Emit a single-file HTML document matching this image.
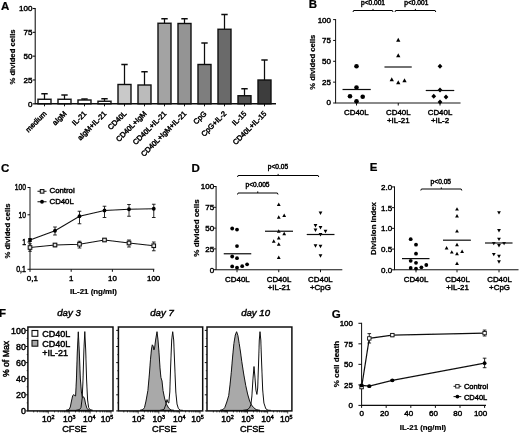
<!DOCTYPE html>
<html><head><meta charset="utf-8"><title>Figure</title>
<style>
html,body{margin:0;padding:0;background:#fff;}
body{width:520px;height:433px;overflow:hidden;font-family:"Liberation Sans",sans-serif;}
svg{display:block;}
svg text{font-family:"Liberation Sans",sans-serif;fill:#000;stroke:#000;stroke-width:0.45px;}
svg text.b{stroke-width:0.22px;}
</style></head><body>
<svg width="520" height="433" viewBox="0 0 520 433">
<rect width="520" height="433" fill="#fff"/>
<defs><filter id="soft" x="0" y="0" width="520" height="433" filterUnits="userSpaceOnUse"><feGaussianBlur stdDeviation="0.38"/></filter></defs>
<g filter="url(#soft)">
<text x="1" y="9.6" font-size="11.5" text-anchor="start" font-weight="bold" font-style="normal" class="b">A</text>
<line x1="35.2" y1="8.0" x2="35.2" y2="103.8" stroke="#111" stroke-width="1.1"/>
<line x1="32.7" y1="8.5" x2="35.2" y2="8.5" stroke="#111" stroke-width="1.1"/>
<text x="32.400000000000006" y="11.4" font-size="8" text-anchor="end" font-weight="normal" font-style="normal">100</text>
<line x1="32.7" y1="32.325" x2="35.2" y2="32.325" stroke="#111" stroke-width="1.1"/>
<text x="32.400000000000006" y="35.225" font-size="8" text-anchor="end" font-weight="normal" font-style="normal">75</text>
<line x1="32.7" y1="56.15" x2="35.2" y2="56.15" stroke="#111" stroke-width="1.1"/>
<text x="32.400000000000006" y="59.05" font-size="8" text-anchor="end" font-weight="normal" font-style="normal">50</text>
<line x1="32.7" y1="79.975" x2="35.2" y2="79.975" stroke="#111" stroke-width="1.1"/>
<text x="32.400000000000006" y="82.875" font-size="8" text-anchor="end" font-weight="normal" font-style="normal">25</text>
<line x1="32.7" y1="103.8" x2="35.2" y2="103.8" stroke="#111" stroke-width="1.1"/>
<text x="32.400000000000006" y="106.7" font-size="8" text-anchor="end" font-weight="normal" font-style="normal">0</text>
<text x="14.6" y="57" font-size="7.7" text-anchor="middle" font-weight="bold" font-style="normal" class="b" transform="rotate(-90 14.6 57)">% divided cells</text>
<line x1="44.5" y1="99.25" x2="44.5" y2="93.75" stroke="#111" stroke-width="1.25"/>
<line x1="41.3" y1="93.75" x2="47.7" y2="93.75" stroke="#111" stroke-width="1.5"/>
<rect x="38.0" y="99.25" width="13" height="4.549999999999997" fill="#fff" stroke="#111" stroke-width="1.4"/>
<line x1="64.5" y1="99.25" x2="64.5" y2="95" stroke="#111" stroke-width="1.25"/>
<line x1="61.3" y1="95" x2="67.7" y2="95" stroke="#111" stroke-width="1.5"/>
<rect x="58.0" y="99.25" width="13" height="4.549999999999997" fill="#fff" stroke="#111" stroke-width="1.4"/>
<line x1="84.5" y1="100" x2="84.5" y2="99.0" stroke="#111" stroke-width="1.25"/>
<line x1="81.3" y1="99.0" x2="87.7" y2="99.0" stroke="#111" stroke-width="1.5"/>
<rect x="78.0" y="100" width="13" height="3.799999999999997" fill="#fff" stroke="#111" stroke-width="1.4"/>
<line x1="104.5" y1="101.25" x2="104.5" y2="98.75" stroke="#111" stroke-width="1.25"/>
<line x1="101.3" y1="98.75" x2="107.7" y2="98.75" stroke="#111" stroke-width="1.5"/>
<rect x="98.0" y="101.25" width="13" height="2.549999999999997" fill="#fff" stroke="#111" stroke-width="1.4"/>
<line x1="124.5" y1="84.5" x2="124.5" y2="64.5" stroke="#111" stroke-width="1.25"/>
<line x1="121.3" y1="64.5" x2="127.7" y2="64.5" stroke="#111" stroke-width="1.5"/>
<rect x="118.0" y="84.5" width="13" height="19.299999999999997" fill="#c9c9c9" stroke="#111" stroke-width="1.4"/>
<line x1="144.5" y1="85" x2="144.5" y2="71.75" stroke="#111" stroke-width="1.25"/>
<line x1="141.3" y1="71.75" x2="147.7" y2="71.75" stroke="#111" stroke-width="1.5"/>
<rect x="138.0" y="85" width="13" height="18.799999999999997" fill="#bbbbbb" stroke="#111" stroke-width="1.4"/>
<line x1="164.5" y1="23.25" x2="164.5" y2="18.75" stroke="#111" stroke-width="1.25"/>
<line x1="161.3" y1="18.75" x2="167.7" y2="18.75" stroke="#111" stroke-width="1.5"/>
<rect x="158.0" y="23.25" width="13" height="80.55" fill="#a3a3a3" stroke="#111" stroke-width="1.4"/>
<line x1="184.5" y1="23.5" x2="184.5" y2="18.75" stroke="#111" stroke-width="1.25"/>
<line x1="181.3" y1="18.75" x2="187.7" y2="18.75" stroke="#111" stroke-width="1.5"/>
<rect x="178.0" y="23.5" width="13" height="80.3" fill="#949494" stroke="#111" stroke-width="1.4"/>
<line x1="204.5" y1="64.5" x2="204.5" y2="43" stroke="#111" stroke-width="1.25"/>
<line x1="201.3" y1="43" x2="207.7" y2="43" stroke="#111" stroke-width="1.5"/>
<rect x="198.0" y="64.5" width="13" height="39.3" fill="#7e7e7e" stroke="#111" stroke-width="1.4"/>
<line x1="224.5" y1="29.25" x2="224.5" y2="14.5" stroke="#111" stroke-width="1.25"/>
<line x1="221.3" y1="14.5" x2="227.7" y2="14.5" stroke="#111" stroke-width="1.5"/>
<rect x="218.0" y="29.25" width="13" height="74.55" fill="#6b6b6b" stroke="#111" stroke-width="1.4"/>
<line x1="244.5" y1="95.75" x2="244.5" y2="88.75" stroke="#111" stroke-width="1.25"/>
<line x1="241.3" y1="88.75" x2="247.7" y2="88.75" stroke="#111" stroke-width="1.5"/>
<rect x="238.0" y="95.75" width="13" height="8.049999999999997" fill="#535353" stroke="#111" stroke-width="1.4"/>
<line x1="264.5" y1="80" x2="264.5" y2="60" stroke="#111" stroke-width="1.25"/>
<line x1="261.3" y1="60" x2="267.7" y2="60" stroke="#111" stroke-width="1.5"/>
<rect x="258.0" y="80" width="13" height="23.799999999999997" fill="#3c3c3c" stroke="#111" stroke-width="1.4"/>
<line x1="34.7" y1="103.8" x2="276" y2="103.8" stroke="#111" stroke-width="1.4"/>
<line x1="44.5" y1="103.8" x2="44.5" y2="106.3" stroke="#111" stroke-width="1.0"/>
<text x="47.0" y="114.1" font-size="7.4" text-anchor="end" font-weight="normal" font-style="normal" transform="rotate(-45 47.0 114.1)">medium</text>
<line x1="64.5" y1="103.8" x2="64.5" y2="106.3" stroke="#111" stroke-width="1.0"/>
<text x="67.0" y="114.1" font-size="7.4" text-anchor="end" font-weight="normal" font-style="normal" transform="rotate(-45 67.0 114.1)">aIgM</text>
<line x1="84.5" y1="103.8" x2="84.5" y2="106.3" stroke="#111" stroke-width="1.0"/>
<text x="87.0" y="114.1" font-size="7.4" text-anchor="end" font-weight="normal" font-style="normal" transform="rotate(-45 87.0 114.1)">IL-21</text>
<line x1="104.5" y1="103.8" x2="104.5" y2="106.3" stroke="#111" stroke-width="1.0"/>
<text x="107.0" y="114.1" font-size="7.4" text-anchor="end" font-weight="normal" font-style="normal" transform="rotate(-45 107.0 114.1)">aIgM+IL-21</text>
<line x1="124.5" y1="103.8" x2="124.5" y2="106.3" stroke="#111" stroke-width="1.0"/>
<text x="127.0" y="114.1" font-size="7.4" text-anchor="end" font-weight="normal" font-style="normal" transform="rotate(-45 127.0 114.1)">CD40L</text>
<line x1="144.5" y1="103.8" x2="144.5" y2="106.3" stroke="#111" stroke-width="1.0"/>
<text x="147.0" y="114.1" font-size="7.4" text-anchor="end" font-weight="normal" font-style="normal" transform="rotate(-45 147.0 114.1)">CD40L+IgM</text>
<line x1="164.5" y1="103.8" x2="164.5" y2="106.3" stroke="#111" stroke-width="1.0"/>
<text x="167.0" y="114.1" font-size="7.4" text-anchor="end" font-weight="normal" font-style="normal" transform="rotate(-45 167.0 114.1)">CD40L+IL-21</text>
<line x1="184.5" y1="103.8" x2="184.5" y2="106.3" stroke="#111" stroke-width="1.0"/>
<text x="187.0" y="114.1" font-size="7.4" text-anchor="end" font-weight="normal" font-style="normal" transform="rotate(-45 187.0 114.1)">CD40L+IgM+IL-21</text>
<line x1="204.5" y1="103.8" x2="204.5" y2="106.3" stroke="#111" stroke-width="1.0"/>
<text x="207.0" y="114.1" font-size="7.4" text-anchor="end" font-weight="normal" font-style="normal" transform="rotate(-45 207.0 114.1)">CpG</text>
<line x1="224.5" y1="103.8" x2="224.5" y2="106.3" stroke="#111" stroke-width="1.0"/>
<text x="227.0" y="114.1" font-size="7.4" text-anchor="end" font-weight="normal" font-style="normal" transform="rotate(-45 227.0 114.1)">CpG+IL-2</text>
<line x1="244.5" y1="103.8" x2="244.5" y2="106.3" stroke="#111" stroke-width="1.0"/>
<text x="247.0" y="114.1" font-size="7.4" text-anchor="end" font-weight="normal" font-style="normal" transform="rotate(-45 247.0 114.1)">IL-15</text>
<line x1="264.5" y1="103.8" x2="264.5" y2="106.3" stroke="#111" stroke-width="1.0"/>
<text x="267.0" y="114.1" font-size="7.4" text-anchor="end" font-weight="normal" font-style="normal" transform="rotate(-45 267.0 114.1)">CD40L+IL-15</text>
<text x="308.8" y="8.2" font-size="11.5" text-anchor="start" font-weight="bold" font-style="normal" class="b">B</text>
<line x1="335.6" y1="19.1" x2="335.6" y2="103" stroke="#111" stroke-width="1.0"/>
<line x1="333.1" y1="19.599999999999994" x2="335.6" y2="19.599999999999994" stroke="#111" stroke-width="1.0"/>
<text x="331.0" y="22.499999999999993" font-size="8" text-anchor="end" font-weight="normal" font-style="normal">100</text>
<line x1="333.1" y1="40.449999999999996" x2="335.6" y2="40.449999999999996" stroke="#111" stroke-width="1.0"/>
<text x="331.0" y="43.349999999999994" font-size="8" text-anchor="end" font-weight="normal" font-style="normal">75</text>
<line x1="333.1" y1="61.3" x2="335.6" y2="61.3" stroke="#111" stroke-width="1.0"/>
<text x="331.0" y="64.2" font-size="8" text-anchor="end" font-weight="normal" font-style="normal">50</text>
<line x1="333.1" y1="82.15" x2="335.6" y2="82.15" stroke="#111" stroke-width="1.0"/>
<text x="331.0" y="85.05000000000001" font-size="8" text-anchor="end" font-weight="normal" font-style="normal">25</text>
<line x1="333.1" y1="103.0" x2="335.6" y2="103.0" stroke="#111" stroke-width="1.0"/>
<text x="331.0" y="104.7" font-size="8" text-anchor="end" font-weight="normal" font-style="normal">0</text>
<line x1="335.1" y1="103" x2="460.5" y2="103" stroke="#111" stroke-width="1.1"/>
<text x="315.2" y="62.2" font-size="7.7" text-anchor="middle" font-weight="bold" font-style="normal" class="b" transform="rotate(-90 315.2 62.2)">% divided cells</text>
<circle cx="356.5" cy="66.25" r="2.3" fill="#000" stroke="none" stroke-width="0"/>
<circle cx="356.5" cy="87.5" r="2.3" fill="#000" stroke="none" stroke-width="0"/>
<circle cx="350" cy="96.25" r="2.3" fill="#000" stroke="none" stroke-width="0"/>
<circle cx="362.7" cy="96.75" r="2.3" fill="#000" stroke="none" stroke-width="0"/>
<circle cx="356.5" cy="101.25" r="2.3" fill="#000" stroke="none" stroke-width="0"/>
<line x1="342.5" y1="89.5" x2="370.75" y2="89.5" stroke="#111" stroke-width="1.2"/>
<path d="M396.1,41.72 L400.4,41.72 L398.25,37.85 Z" fill="#000"/>
<path d="M396.1,57.22 L400.4,57.22 L398.25,53.35 Z" fill="#000"/>
<path d="M389.6,81.22 L393.9,81.22 L391.75,77.35 Z" fill="#000"/>
<path d="M396.1,84.22 L400.4,84.22 L398.25,80.35 Z" fill="#000"/>
<path d="M402.35,82.22 L406.65,82.22 L404.5,78.35 Z" fill="#000"/>
<line x1="384.5" y1="67" x2="411.75" y2="67" stroke="#111" stroke-width="1.2"/>
<path d="M437.6,66.25 L440,63.85 L442.4,66.25 L440,68.65 Z" fill="#000"/>
<path d="M437.6,90 L440,87.6 L442.4,90 L440,92.4 Z" fill="#000"/>
<path d="M431.35,96.25 L433.75,93.85 L436.15,96.25 L433.75,98.65 Z" fill="#000"/>
<path d="M443.6,97 L446,94.6 L448.4,97 L446,99.4 Z" fill="#000"/>
<path d="M437.6,102 L440,99.6 L442.4,102 L440,104.4 Z" fill="#000"/>
<line x1="425.75" y1="90.5" x2="454.25" y2="90.5" stroke="#111" stroke-width="1.2"/>
<line x1="356.5" y1="103" x2="356.5" y2="105.5" stroke="#111" stroke-width="1.0"/>
<line x1="398.25" y1="103" x2="398.25" y2="105.5" stroke="#111" stroke-width="1.0"/>
<line x1="440" y1="103" x2="440" y2="105.5" stroke="#111" stroke-width="1.0"/>
<path d="M353,12.0 L353.6,10.5 L392.4,10.5 L393,12.0 M373.0,10.5 L373.0,8.9" fill="none" stroke="#000" stroke-width="1.0" stroke-linejoin="round"/>
<path d="M395,12.0 L395.6,10.5 L435.15,10.5 L435.75,12.0 M415.375,10.5 L415.375,8.9" fill="none" stroke="#000" stroke-width="1.0" stroke-linejoin="round"/>
<text x="373" y="5.3" font-size="6.6" text-anchor="middle" font-weight="normal" font-style="normal">p&lt;0.001</text>
<text x="416.3" y="5.3" font-size="6.6" text-anchor="middle" font-weight="normal" font-style="normal">p&lt;0.001</text>
<text x="356.3" y="114.8" font-size="7.9" text-anchor="middle" font-weight="normal" font-style="normal">CD40L</text>
<text x="398.3" y="114.8" font-size="7.9" text-anchor="middle" font-weight="normal" font-style="normal">CD40L</text>
<text x="398.3" y="123.0" font-size="7.9" text-anchor="middle" font-weight="normal" font-style="normal">+IL-21</text>
<text x="440" y="114.8" font-size="7.9" text-anchor="middle" font-weight="normal" font-style="normal">CD40L</text>
<text x="440" y="123.0" font-size="7.9" text-anchor="middle" font-weight="normal" font-style="normal">+IL-2</text>
<text x="1" y="172.3" font-size="11.5" text-anchor="start" font-weight="bold" font-style="normal" class="b">C</text>
<line x1="30" y1="187.0" x2="30" y2="269.3" stroke="#111" stroke-width="1.0"/>
<line x1="27.5" y1="187.5" x2="30" y2="187.5" stroke="#111" stroke-width="1.0"/>
<text x="26" y="190.4" font-size="8.4" text-anchor="end" font-weight="normal" font-style="normal" textLength="11.2" lengthAdjust="spacingAndGlyphs">100</text>
<line x1="27.5" y1="214.76666666666668" x2="30" y2="214.76666666666668" stroke="#111" stroke-width="1.0"/>
<text x="26" y="217.66666666666669" font-size="8.4" text-anchor="end" font-weight="normal" font-style="normal" textLength="7.5" lengthAdjust="spacingAndGlyphs">10</text>
<line x1="27.5" y1="242.03333333333333" x2="30" y2="242.03333333333333" stroke="#111" stroke-width="1.0"/>
<text x="26" y="244.93333333333334" font-size="8.4" text-anchor="end" font-weight="normal" font-style="normal" textLength="3.8" lengthAdjust="spacingAndGlyphs">1</text>
<line x1="27.5" y1="269.3" x2="30" y2="269.3" stroke="#111" stroke-width="1.0"/>
<text x="26" y="272.2" font-size="8.4" text-anchor="end" font-weight="normal" font-style="normal" textLength="9.8" lengthAdjust="spacingAndGlyphs">0,1</text>
<line x1="29.5" y1="269.3" x2="154.3" y2="269.3" stroke="#111" stroke-width="1.1"/>
<line x1="30.0" y1="269.3" x2="30.0" y2="271.8" stroke="#111" stroke-width="1.0"/>
<text x="32.3" y="280.5" font-size="7.9" text-anchor="middle" font-weight="normal" font-style="normal">0,1</text>
<line x1="71.2" y1="269.3" x2="71.2" y2="271.8" stroke="#111" stroke-width="1.0"/>
<text x="71.2" y="280.5" font-size="7.9" text-anchor="middle" font-weight="normal" font-style="normal">1</text>
<line x1="112.4" y1="269.3" x2="112.4" y2="271.8" stroke="#111" stroke-width="1.0"/>
<text x="112.4" y="280.5" font-size="7.9" text-anchor="middle" font-weight="normal" font-style="normal">10</text>
<line x1="153.60000000000002" y1="269.3" x2="153.60000000000002" y2="271.8" stroke="#111" stroke-width="1.0"/>
<text x="153.60000000000002" y="280.5" font-size="7.9" text-anchor="middle" font-weight="normal" font-style="normal">100</text>
<text x="10.0" y="231" font-size="7.7" text-anchor="middle" font-weight="bold" font-style="normal" class="b" transform="rotate(-90 10.0 231)">% divided cells</text>
<text x="93.5" y="293.8" font-size="7.9" text-anchor="middle" font-weight="bold" font-style="normal" class="b">IL-21 (ng/ml)</text>
<polyline points="30,240 55,230.75 79.5,216.25 104.5,210.5 129,209.25 153.75,208.75" fill="none" stroke="#111" stroke-width="1.1"/>
<line x1="30" y1="238.5" x2="30" y2="241.5" stroke="#111" stroke-width="0.9"/>
<line x1="28.2" y1="238.5" x2="31.8" y2="238.5" stroke="#111" stroke-width="0.9"/>
<line x1="28.2" y1="241.5" x2="31.8" y2="241.5" stroke="#111" stroke-width="0.9"/>
<circle cx="30" cy="240" r="1.9" fill="#000" stroke="none" stroke-width="0"/>
<line x1="55" y1="227" x2="55" y2="235" stroke="#111" stroke-width="0.9"/>
<line x1="53.2" y1="227" x2="56.8" y2="227" stroke="#111" stroke-width="0.9"/>
<line x1="53.2" y1="235" x2="56.8" y2="235" stroke="#111" stroke-width="0.9"/>
<circle cx="55" cy="230.75" r="1.9" fill="#000" stroke="none" stroke-width="0"/>
<line x1="79.5" y1="211.25" x2="79.5" y2="223.75" stroke="#111" stroke-width="0.9"/>
<line x1="77.7" y1="211.25" x2="81.3" y2="211.25" stroke="#111" stroke-width="0.9"/>
<line x1="77.7" y1="223.75" x2="81.3" y2="223.75" stroke="#111" stroke-width="0.9"/>
<circle cx="79.5" cy="216.25" r="1.9" fill="#000" stroke="none" stroke-width="0"/>
<line x1="104.5" y1="206.25" x2="104.5" y2="217.5" stroke="#111" stroke-width="0.9"/>
<line x1="102.7" y1="206.25" x2="106.3" y2="206.25" stroke="#111" stroke-width="0.9"/>
<line x1="102.7" y1="217.5" x2="106.3" y2="217.5" stroke="#111" stroke-width="0.9"/>
<circle cx="104.5" cy="210.5" r="1.9" fill="#000" stroke="none" stroke-width="0"/>
<line x1="129" y1="204.5" x2="129" y2="216.25" stroke="#111" stroke-width="0.9"/>
<line x1="127.2" y1="204.5" x2="130.8" y2="204.5" stroke="#111" stroke-width="0.9"/>
<line x1="127.2" y1="216.25" x2="130.8" y2="216.25" stroke="#111" stroke-width="0.9"/>
<circle cx="129" cy="209.25" r="1.9" fill="#000" stroke="none" stroke-width="0"/>
<line x1="153.75" y1="204.25" x2="153.75" y2="217.5" stroke="#111" stroke-width="0.9"/>
<line x1="151.95" y1="204.25" x2="155.55" y2="204.25" stroke="#111" stroke-width="0.9"/>
<line x1="151.95" y1="217.5" x2="155.55" y2="217.5" stroke="#111" stroke-width="0.9"/>
<circle cx="153.75" cy="208.75" r="1.9" fill="#000" stroke="none" stroke-width="0"/>
<polyline points="30,247.5 55,245 79.5,244.25 104.5,240 129,243 153.75,245.75" fill="none" stroke="#111" stroke-width="1.1"/>
<line x1="30" y1="243.75" x2="30" y2="251.25" stroke="#111" stroke-width="0.9"/>
<line x1="28.2" y1="243.75" x2="31.8" y2="243.75" stroke="#111" stroke-width="0.9"/>
<line x1="28.2" y1="251.25" x2="31.8" y2="251.25" stroke="#111" stroke-width="0.9"/>
<rect x="28.2" y="245.7" width="3.6" height="3.6" fill="#e4e4e4" stroke="#111" stroke-width="1.05"/>
<line x1="55" y1="243.5" x2="55" y2="246.7" stroke="#111" stroke-width="0.9"/>
<line x1="53.2" y1="243.5" x2="56.8" y2="243.5" stroke="#111" stroke-width="0.9"/>
<line x1="53.2" y1="246.7" x2="56.8" y2="246.7" stroke="#111" stroke-width="0.9"/>
<rect x="53.2" y="243.2" width="3.6" height="3.6" fill="#e4e4e4" stroke="#111" stroke-width="1.05"/>
<line x1="79.5" y1="241.25" x2="79.5" y2="248" stroke="#111" stroke-width="0.9"/>
<line x1="77.7" y1="241.25" x2="81.3" y2="241.25" stroke="#111" stroke-width="0.9"/>
<line x1="77.7" y1="248" x2="81.3" y2="248" stroke="#111" stroke-width="0.9"/>
<rect x="77.7" y="242.45" width="3.6" height="3.6" fill="#e4e4e4" stroke="#111" stroke-width="1.05"/>
<line x1="104.5" y1="238.8" x2="104.5" y2="241.2" stroke="#111" stroke-width="0.9"/>
<line x1="102.7" y1="238.8" x2="106.3" y2="238.8" stroke="#111" stroke-width="0.9"/>
<line x1="102.7" y1="241.2" x2="106.3" y2="241.2" stroke="#111" stroke-width="0.9"/>
<rect x="102.7" y="238.2" width="3.6" height="3.6" fill="#e4e4e4" stroke="#111" stroke-width="1.05"/>
<line x1="129" y1="240" x2="129" y2="247" stroke="#111" stroke-width="0.9"/>
<line x1="127.2" y1="240" x2="130.8" y2="240" stroke="#111" stroke-width="0.9"/>
<line x1="127.2" y1="247" x2="130.8" y2="247" stroke="#111" stroke-width="0.9"/>
<rect x="127.2" y="241.2" width="3.6" height="3.6" fill="#e4e4e4" stroke="#111" stroke-width="1.05"/>
<line x1="153.75" y1="242" x2="153.75" y2="250.75" stroke="#111" stroke-width="0.9"/>
<line x1="151.95" y1="242" x2="155.55" y2="242" stroke="#111" stroke-width="0.9"/>
<line x1="151.95" y1="250.75" x2="155.55" y2="250.75" stroke="#111" stroke-width="0.9"/>
<rect x="151.95" y="243.95" width="3.6" height="3.6" fill="#e4e4e4" stroke="#111" stroke-width="1.05"/>
<line x1="37.5" y1="191.25" x2="46.5" y2="191.25" stroke="#111" stroke-width="1.0"/>
<rect x="40.3" y="189.55" width="3.6" height="3.6" fill="#e4e4e4" stroke="#111" stroke-width="1.05"/>
<text x="49.5" y="193" font-size="7.8" text-anchor="start" font-weight="normal" font-style="normal">Control</text>
<line x1="37.5" y1="201.75" x2="46.5" y2="201.75" stroke="#111" stroke-width="1.0"/>
<circle cx="42" cy="201.75" r="1.9" fill="#000" stroke="none" stroke-width="0"/>
<text x="49.5" y="203.6" font-size="7.8" text-anchor="start" font-weight="normal" font-style="normal">CD40L</text>
<text x="191.5" y="172.3" font-size="11.5" text-anchor="start" font-weight="bold" font-style="normal" class="b">D</text>
<line x1="216.1" y1="186.0" x2="216.1" y2="269.7" stroke="#111" stroke-width="1.0"/>
<line x1="213.6" y1="186.5" x2="216.1" y2="186.5" stroke="#111" stroke-width="1.0"/>
<text x="214.1" y="189.4" font-size="8" text-anchor="end" font-weight="normal" font-style="normal">100</text>
<line x1="213.6" y1="207.3" x2="216.1" y2="207.3" stroke="#111" stroke-width="1.0"/>
<text x="214.1" y="210.20000000000002" font-size="8" text-anchor="end" font-weight="normal" font-style="normal">75</text>
<line x1="213.6" y1="228.1" x2="216.1" y2="228.1" stroke="#111" stroke-width="1.0"/>
<text x="214.1" y="231.0" font-size="8" text-anchor="end" font-weight="normal" font-style="normal">50</text>
<line x1="213.6" y1="248.89999999999998" x2="216.1" y2="248.89999999999998" stroke="#111" stroke-width="1.0"/>
<text x="214.1" y="251.79999999999998" font-size="8" text-anchor="end" font-weight="normal" font-style="normal">25</text>
<line x1="213.6" y1="269.7" x2="216.1" y2="269.7" stroke="#111" stroke-width="1.0"/>
<text x="214.1" y="272.59999999999997" font-size="8" text-anchor="end" font-weight="normal" font-style="normal">0</text>
<line x1="215.6" y1="269.7" x2="342.3" y2="269.7" stroke="#111" stroke-width="1.1"/>
<text x="199.4" y="228" font-size="8" text-anchor="middle" font-weight="bold" font-style="normal" class="b" transform="rotate(-90 199.4 228)">% divided cells</text>
<circle cx="232.2" cy="228.5" r="1.9" fill="#000" stroke="none" stroke-width="0"/>
<circle cx="237" cy="229.6" r="1.9" fill="#000" stroke="none" stroke-width="0"/>
<circle cx="237" cy="246.1" r="1.9" fill="#000" stroke="none" stroke-width="0"/>
<circle cx="232.2" cy="256.5" r="1.9" fill="#000" stroke="none" stroke-width="0"/>
<circle cx="237" cy="258.2" r="1.9" fill="#000" stroke="none" stroke-width="0"/>
<circle cx="232.2" cy="266.4" r="1.9" fill="#000" stroke="none" stroke-width="0"/>
<circle cx="237" cy="267.7" r="1.9" fill="#000" stroke="none" stroke-width="0"/>
<circle cx="242.2" cy="266.2" r="1.9" fill="#000" stroke="none" stroke-width="0"/>
<circle cx="247.1" cy="264.3" r="1.9" fill="#000" stroke="none" stroke-width="0"/>
<line x1="223.75" y1="253.75" x2="251.25" y2="253.75" stroke="#111" stroke-width="1.2"/>
<path d="M276.85,206.02 L280.65,206.02 L278.75,202.6 Z" fill="#000"/>
<path d="M276.85,218.72 L280.65,218.72 L278.75,215.29999999999998 Z" fill="#000"/>
<path d="M282.3,217.02 L286.09999999999997,217.02 L284.2,213.6 Z" fill="#000"/>
<path d="M276.85,232.77 L280.65,232.77 L278.75,229.35 Z" fill="#000"/>
<path d="M282.3,235.27 L286.09999999999997,235.27 L284.2,231.85 Z" fill="#000"/>
<path d="M276.85,239.52 L280.65,239.52 L278.75,236.1 Z" fill="#000"/>
<path d="M271.85,242.77 L275.65,242.77 L273.75,239.35 Z" fill="#000"/>
<path d="M276.85,245.77 L280.65,245.77 L278.75,242.35 Z" fill="#000"/>
<path d="M276.85,259.02 L280.65,259.02 L278.75,255.6 Z" fill="#000"/>
<line x1="265" y1="231.25" x2="293" y2="231.25" stroke="#111" stroke-width="1.2"/>
<path d="M318.6,211.48 L322.4,211.48 L320.5,214.9 Z" fill="#000"/>
<path d="M313.6,223.98 L317.4,223.98 L315.5,227.4 Z" fill="#000"/>
<path d="M318.6,225.98 L322.4,225.98 L320.5,229.4 Z" fill="#000"/>
<path d="M323.6,229.73 L327.4,229.73 L325.5,233.15 Z" fill="#000"/>
<path d="M313.6,228.48 L317.4,228.48 L315.5,231.9 Z" fill="#000"/>
<path d="M318.6,232.98 L322.4,232.98 L320.5,236.4 Z" fill="#000"/>
<path d="M313.6,244.23 L317.4,244.23 L315.5,247.65 Z" fill="#000"/>
<path d="M318.6,244.73 L322.4,244.73 L320.5,248.15 Z" fill="#000"/>
<path d="M318.6,254.23 L322.4,254.23 L320.5,257.65 Z" fill="#000"/>
<line x1="306.75" y1="234.5" x2="334.5" y2="234.5" stroke="#111" stroke-width="1.2"/>
<line x1="237" y1="269.7" x2="237" y2="272.2" stroke="#111" stroke-width="1.0"/>
<line x1="278.75" y1="269.7" x2="278.75" y2="272.2" stroke="#111" stroke-width="1.0"/>
<line x1="320.5" y1="269.7" x2="320.5" y2="272.2" stroke="#111" stroke-width="1.0"/>
<path d="M237.5,177.0 L238.1,175.5 L318.15,175.5 L318.75,177.0 M278.125,175.5 L278.125,173.9" fill="none" stroke="#000" stroke-width="1.0" stroke-linejoin="round"/>
<path d="M237.5,194.5 L238.1,193 L277.4,193 L278,194.5 M257.75,193 L257.75,191.4" fill="none" stroke="#000" stroke-width="1.0" stroke-linejoin="round"/>
<text x="278" y="169.4" font-size="6.6" text-anchor="middle" font-weight="normal" font-style="normal">p&lt;0.05</text>
<text x="257.5" y="187.4" font-size="6.6" text-anchor="middle" font-weight="normal" font-style="normal">p&lt;0.005</text>
<text x="237.4" y="281.5" font-size="7.9" text-anchor="middle" font-weight="normal" font-style="normal">CD40L</text>
<text x="279" y="281.5" font-size="7.9" text-anchor="middle" font-weight="normal" font-style="normal">CD40L</text>
<text x="279" y="289.5" font-size="7.9" text-anchor="middle" font-weight="normal" font-style="normal">+IL-21</text>
<text x="320.4" y="281.5" font-size="7.9" text-anchor="middle" font-weight="normal" font-style="normal">CD40L</text>
<text x="320.4" y="289.5" font-size="7.9" text-anchor="middle" font-weight="normal" font-style="normal">+CpG</text>
<text x="369.8" y="171.3" font-size="11.5" text-anchor="start" font-weight="bold" font-style="normal" class="b">E</text>
<line x1="394.5" y1="186.4" x2="394.5" y2="269.8" stroke="#111" stroke-width="1.0"/>
<line x1="392.0" y1="186.9" x2="394.5" y2="186.9" stroke="#111" stroke-width="1.0"/>
<text x="392.1" y="189.8" font-size="8" text-anchor="end" font-weight="normal" font-style="normal">2.0</text>
<line x1="392.0" y1="207.625" x2="394.5" y2="207.625" stroke="#111" stroke-width="1.0"/>
<text x="392.1" y="210.525" font-size="8" text-anchor="end" font-weight="normal" font-style="normal">1.5</text>
<line x1="392.0" y1="228.35000000000002" x2="394.5" y2="228.35000000000002" stroke="#111" stroke-width="1.0"/>
<text x="392.1" y="231.25000000000003" font-size="8" text-anchor="end" font-weight="normal" font-style="normal">1.0</text>
<line x1="392.0" y1="249.07500000000002" x2="394.5" y2="249.07500000000002" stroke="#111" stroke-width="1.0"/>
<text x="392.1" y="251.97500000000002" font-size="8" text-anchor="end" font-weight="normal" font-style="normal">0.5</text>
<line x1="392.0" y1="269.8" x2="394.5" y2="269.8" stroke="#111" stroke-width="1.0"/>
<text x="392.1" y="272.7" font-size="8" text-anchor="end" font-weight="normal" font-style="normal">0.0</text>
<line x1="394.0" y1="269.8" x2="518.5" y2="269.8" stroke="#111" stroke-width="1.1"/>
<text x="376.4" y="228.5" font-size="7.8" text-anchor="middle" font-weight="bold" font-style="normal" class="b" transform="rotate(-90 376.4 228.5)">Division Index</text>
<circle cx="410.7" cy="239.2" r="1.9" fill="#000" stroke="none" stroke-width="0"/>
<circle cx="416" cy="244.7" r="1.9" fill="#000" stroke="none" stroke-width="0"/>
<circle cx="416" cy="253.7" r="1.9" fill="#000" stroke="none" stroke-width="0"/>
<circle cx="410.7" cy="260.8" r="1.9" fill="#000" stroke="none" stroke-width="0"/>
<circle cx="416" cy="262.8" r="1.9" fill="#000" stroke="none" stroke-width="0"/>
<circle cx="410.7" cy="268.0" r="1.9" fill="#000" stroke="none" stroke-width="0"/>
<circle cx="416" cy="268.6" r="1.9" fill="#000" stroke="none" stroke-width="0"/>
<circle cx="421.4" cy="267.3" r="1.9" fill="#000" stroke="none" stroke-width="0"/>
<circle cx="426.3" cy="265" r="1.9" fill="#000" stroke="none" stroke-width="0"/>
<line x1="402" y1="258.6" x2="429.5" y2="258.6" stroke="#111" stroke-width="1.2"/>
<path d="M455.1,210.62 L458.9,210.62 L457,207.2 Z" fill="#000"/>
<path d="M455.1,217.42000000000002 L458.9,217.42000000000002 L457,214.0 Z" fill="#000"/>
<path d="M455.1,232.62 L458.9,232.62 L457,229.2 Z" fill="#000"/>
<path d="M455.1,246.22 L458.9,246.22 L457,242.79999999999998 Z" fill="#000"/>
<path d="M444.70000000000005,249.42000000000002 L448.5,249.42000000000002 L446.6,246.0 Z" fill="#000"/>
<path d="M449.90000000000003,253.62 L453.7,253.62 L451.8,250.2 Z" fill="#000"/>
<path d="M455.1,255.22 L458.9,255.22 L457,251.79999999999998 Z" fill="#000"/>
<path d="M460.20000000000005,253.02 L464.0,253.02 L462.1,249.6 Z" fill="#000"/>
<path d="M455.1,264.91999999999996 L458.9,264.91999999999996 L457,261.5 Z" fill="#000"/>
<line x1="443" y1="240.2" x2="470.9" y2="240.2" stroke="#111" stroke-width="1.2"/>
<path d="M497.1,211.17999999999998 L500.9,211.17999999999998 L499,214.6 Z" fill="#000"/>
<path d="M497.1,228.98 L500.9,228.98 L499,232.4 Z" fill="#000"/>
<path d="M497.1,237.67999999999998 L500.9,237.67999999999998 L499,241.1 Z" fill="#000"/>
<path d="M491.90000000000003,241.88 L495.7,241.88 L493.8,245.3 Z" fill="#000"/>
<path d="M502.20000000000005,241.88 L506.0,241.88 L504.1,245.3 Z" fill="#000"/>
<path d="M497.1,244.07999999999998 L500.9,244.07999999999998 L499,247.5 Z" fill="#000"/>
<path d="M491.90000000000003,252.88 L495.7,252.88 L493.8,256.3 Z" fill="#000"/>
<path d="M497.1,254.78 L500.9,254.78 L499,258.2 Z" fill="#000"/>
<path d="M497.1,260.28000000000003 L500.9,260.28000000000003 L499,263.7 Z" fill="#000"/>
<line x1="485" y1="243" x2="512.5" y2="243" stroke="#111" stroke-width="1.2"/>
<line x1="416" y1="269.8" x2="416" y2="272.3" stroke="#111" stroke-width="1.0"/>
<line x1="457" y1="269.8" x2="457" y2="272.3" stroke="#111" stroke-width="1.0"/>
<line x1="499" y1="269.8" x2="499" y2="272.3" stroke="#111" stroke-width="1.0"/>
<path d="M420.8,190.5 L421.40000000000003,189 L461.2,189 L461.8,190.5 M441.3,189 L441.3,187.4" fill="none" stroke="#000" stroke-width="1.0" stroke-linejoin="round"/>
<text x="440.8" y="184" font-size="6.6" text-anchor="middle" font-weight="normal" font-style="normal">p&lt;0.05</text>
<text x="416" y="281.7" font-size="7.9" text-anchor="middle" font-weight="normal" font-style="normal">CD40L</text>
<text x="457.5" y="281.7" font-size="7.9" text-anchor="middle" font-weight="normal" font-style="normal">CD40L</text>
<text x="457.5" y="290.2" font-size="7.9" text-anchor="middle" font-weight="normal" font-style="normal">+IL-21</text>
<text x="499.5" y="281.7" font-size="7.9" text-anchor="middle" font-weight="normal" font-style="normal">CD40L</text>
<text x="499.5" y="290.2" font-size="7.9" text-anchor="middle" font-weight="normal" font-style="normal">+CpG</text>
<text x="-1.0" y="317.2" font-size="11.5" text-anchor="start" font-weight="bold" font-style="normal" class="b">F</text>
<text x="69" y="316" font-size="9.6" text-anchor="middle" font-weight="normal" font-style="italic">day 3</text>
<text x="162" y="316" font-size="9.6" text-anchor="middle" font-weight="normal" font-style="italic">day 7</text>
<text x="255.6" y="316" font-size="9.6" text-anchor="middle" font-weight="normal" font-style="italic">day 10</text>
<text x="9.3" y="359" font-size="8.7" text-anchor="middle" font-weight="normal" font-style="normal" transform="rotate(-90 9.3 359)">% of Max</text>
<path d="M66,410.4 L69,409.6 L70.3,407 L71.5,401 L72.6,396 L73.6,394.6 L74.8,395.6 L75.6,396 L76.4,380 L77.3,352 L78.3,331.8 L79.3,352 L80.3,378 L81.4,392 L82.5,397.6 L83.6,396.8 L84.6,399 L85.6,404 L87,408.6 L89,410.2 L92,410.4 Z" fill="#a9a9a9" stroke="#111" stroke-width="1.0" stroke-linejoin="round"/>
<path d="M76,410.4 L79.5,409.6 L81,407.5 L82.2,398 L83,380 L83.9,350 L84.8,331.6 L85.7,350 L86.6,380 L87.6,400 L88.6,407.5 L90,409.8 L93,410.4" fill="none" stroke="#111" stroke-width="1.0" stroke-linejoin="round"/>
<rect x="27.9" y="327" width="85.1" height="83.89999999999998" fill="none" stroke="#111" stroke-width="1.5"/>
<line x1="25.7" y1="330.4" x2="27.9" y2="330.4" stroke="#111" stroke-width="1.0"/>
<text x="25.9" y="333.5" font-size="8.9" text-anchor="end" font-weight="normal" font-style="normal">100</text>
<line x1="25.7" y1="346.5" x2="27.9" y2="346.5" stroke="#111" stroke-width="1.0"/>
<text x="25.9" y="349.6" font-size="8.9" text-anchor="end" font-weight="normal" font-style="normal">80</text>
<line x1="25.7" y1="362.59999999999997" x2="27.9" y2="362.59999999999997" stroke="#111" stroke-width="1.0"/>
<text x="25.9" y="365.7" font-size="8.9" text-anchor="end" font-weight="normal" font-style="normal">60</text>
<line x1="25.7" y1="378.7" x2="27.9" y2="378.7" stroke="#111" stroke-width="1.0"/>
<text x="25.9" y="381.8" font-size="8.9" text-anchor="end" font-weight="normal" font-style="normal">40</text>
<line x1="25.7" y1="394.79999999999995" x2="27.9" y2="394.79999999999995" stroke="#111" stroke-width="1.0"/>
<text x="25.9" y="397.9" font-size="8.9" text-anchor="end" font-weight="normal" font-style="normal">20</text>
<line x1="25.7" y1="410.9" x2="27.9" y2="410.9" stroke="#111" stroke-width="1.0"/>
<text x="25.9" y="414.0" font-size="8.9" text-anchor="end" font-weight="normal" font-style="normal">0</text>
<line x1="26.7" y1="338.45" x2="27.9" y2="338.45" stroke="#111" stroke-width="0.7"/>
<line x1="26.7" y1="354.55" x2="27.9" y2="354.55" stroke="#111" stroke-width="0.7"/>
<line x1="26.7" y1="370.65" x2="27.9" y2="370.65" stroke="#111" stroke-width="0.7"/>
<line x1="26.7" y1="386.75" x2="27.9" y2="386.75" stroke="#111" stroke-width="0.7"/>
<line x1="26.7" y1="402.84999999999997" x2="27.9" y2="402.84999999999997" stroke="#111" stroke-width="0.7"/>
<line x1="33.69" y1="410.9" x2="33.69" y2="412.4" stroke="#111" stroke-width="0.8"/>
<line x1="37.37" y1="410.9" x2="37.37" y2="412.4" stroke="#111" stroke-width="0.8"/>
<line x1="39.98" y1="410.9" x2="39.98" y2="412.4" stroke="#111" stroke-width="0.8"/>
<line x1="42.01" y1="410.9" x2="42.01" y2="412.4" stroke="#111" stroke-width="0.8"/>
<line x1="43.66" y1="410.9" x2="43.66" y2="412.4" stroke="#111" stroke-width="0.8"/>
<line x1="45.06" y1="410.9" x2="45.06" y2="412.4" stroke="#111" stroke-width="0.8"/>
<line x1="46.27" y1="410.9" x2="46.27" y2="412.4" stroke="#111" stroke-width="0.8"/>
<line x1="47.34" y1="410.9" x2="47.34" y2="412.4" stroke="#111" stroke-width="0.8"/>
<line x1="48.3" y1="410.9" x2="48.3" y2="413.5" stroke="#111" stroke-width="0.8"/>
<line x1="54.59" y1="410.9" x2="54.59" y2="412.4" stroke="#111" stroke-width="0.8"/>
<line x1="58.27" y1="410.9" x2="58.27" y2="412.4" stroke="#111" stroke-width="0.8"/>
<line x1="60.88" y1="410.9" x2="60.88" y2="412.4" stroke="#111" stroke-width="0.8"/>
<line x1="62.91" y1="410.9" x2="62.91" y2="412.4" stroke="#111" stroke-width="0.8"/>
<line x1="64.56" y1="410.9" x2="64.56" y2="412.4" stroke="#111" stroke-width="0.8"/>
<line x1="65.96" y1="410.9" x2="65.96" y2="412.4" stroke="#111" stroke-width="0.8"/>
<line x1="67.17" y1="410.9" x2="67.17" y2="412.4" stroke="#111" stroke-width="0.8"/>
<line x1="68.24" y1="410.9" x2="68.24" y2="412.4" stroke="#111" stroke-width="0.8"/>
<line x1="69.2" y1="410.9" x2="69.2" y2="413.5" stroke="#111" stroke-width="0.8"/>
<line x1="75.49" y1="410.9" x2="75.49" y2="412.4" stroke="#111" stroke-width="0.8"/>
<line x1="79.17" y1="410.9" x2="79.17" y2="412.4" stroke="#111" stroke-width="0.8"/>
<line x1="81.78" y1="410.9" x2="81.78" y2="412.4" stroke="#111" stroke-width="0.8"/>
<line x1="83.81" y1="410.9" x2="83.81" y2="412.4" stroke="#111" stroke-width="0.8"/>
<line x1="85.46" y1="410.9" x2="85.46" y2="412.4" stroke="#111" stroke-width="0.8"/>
<line x1="86.86" y1="410.9" x2="86.86" y2="412.4" stroke="#111" stroke-width="0.8"/>
<line x1="88.07" y1="410.9" x2="88.07" y2="412.4" stroke="#111" stroke-width="0.8"/>
<line x1="89.14" y1="410.9" x2="89.14" y2="412.4" stroke="#111" stroke-width="0.8"/>
<line x1="90.1" y1="410.9" x2="90.1" y2="413.5" stroke="#111" stroke-width="0.8"/>
<line x1="96.39" y1="410.9" x2="96.39" y2="412.4" stroke="#111" stroke-width="0.8"/>
<line x1="100.07" y1="410.9" x2="100.07" y2="412.4" stroke="#111" stroke-width="0.8"/>
<line x1="102.68" y1="410.9" x2="102.68" y2="412.4" stroke="#111" stroke-width="0.8"/>
<line x1="104.71" y1="410.9" x2="104.71" y2="412.4" stroke="#111" stroke-width="0.8"/>
<line x1="106.36" y1="410.9" x2="106.36" y2="412.4" stroke="#111" stroke-width="0.8"/>
<line x1="107.76" y1="410.9" x2="107.76" y2="412.4" stroke="#111" stroke-width="0.8"/>
<line x1="108.97" y1="410.9" x2="108.97" y2="412.4" stroke="#111" stroke-width="0.8"/>
<line x1="110.04" y1="410.9" x2="110.04" y2="412.4" stroke="#111" stroke-width="0.8"/>
<line x1="111.0" y1="410.9" x2="111.0" y2="413.5" stroke="#111" stroke-width="0.8"/>
<text x="48.3" y="421.9" font-size="8.6" text-anchor="middle">10<tspan font-size="5.332" dy="-3.2">2</tspan></text>
<text x="69.2" y="421.9" font-size="8.6" text-anchor="middle">10<tspan font-size="5.332" dy="-3.2">3</tspan></text>
<text x="89.3" y="421.9" font-size="8.6" text-anchor="middle">10<tspan font-size="5.332" dy="-3.2">4</tspan></text>
<text x="107" y="421.9" font-size="8.6" text-anchor="middle">10<tspan font-size="5.332" dy="-3.2">5</tspan></text>
<text x="74.4" y="432.0" font-size="9.2" text-anchor="middle" font-weight="normal" font-style="normal">CFSE</text>
<rect x="32" y="330.5" width="5.8" height="5.8" fill="#fff" stroke="#111" stroke-width="1.1"/>
<rect x="32" y="340.4" width="5.8" height="5.8" fill="#a9a9a9" stroke="#111" stroke-width="1.1"/>
<text x="42.2" y="336.6" font-size="9" text-anchor="start" font-weight="normal" font-style="normal">CD40L</text>
<text x="42.2" y="346.5" font-size="9" text-anchor="start" font-weight="normal" font-style="normal">CD40L</text>
<text x="42.2" y="356.0" font-size="9" text-anchor="start" font-weight="normal" font-style="normal">+IL-21</text>
<path d="M140,410.4 L143,409.6 L144.5,407.5 L146,401 L147.9,390.5 L149.3,375 L150.5,359.2 L151.5,349 L152.3,344.8 L153.1,346 L153.9,350 L154.6,348 L155.6,340 L157,331.7 L158,340 L159.1,354 L160,368 L160.9,377.4 L162,381 L163,390.5 L164.5,398 L166.1,403.5 L168.7,408.2 L171,410 L174,410.4 Z" fill="#a9a9a9" stroke="#111" stroke-width="1.0" stroke-linejoin="round"/>
<path d="M160,410.4 L164,409.5 L166,404 L167,399.6 L168,402.5 L168.8,403 L169.8,392 L170.7,365 L171.7,340 L172.7,331.7 L173.7,340 L174.7,365 L175.8,392 L177,404 L178.4,408.6 L180.5,410.2 L183,410.4" fill="none" stroke="#111" stroke-width="1.0" stroke-linejoin="round"/>
<rect x="118.4" y="327" width="84.29999999999998" height="83.89999999999998" fill="none" stroke="#111" stroke-width="1.5"/>
<line x1="116.2" y1="330.4" x2="118.4" y2="330.4" stroke="#111" stroke-width="1.0"/>
<line x1="116.2" y1="346.5" x2="118.4" y2="346.5" stroke="#111" stroke-width="1.0"/>
<line x1="116.2" y1="362.59999999999997" x2="118.4" y2="362.59999999999997" stroke="#111" stroke-width="1.0"/>
<line x1="116.2" y1="378.7" x2="118.4" y2="378.7" stroke="#111" stroke-width="1.0"/>
<line x1="116.2" y1="394.79999999999995" x2="118.4" y2="394.79999999999995" stroke="#111" stroke-width="1.0"/>
<line x1="116.2" y1="410.9" x2="118.4" y2="410.9" stroke="#111" stroke-width="1.0"/>
<line x1="117.2" y1="338.45" x2="118.4" y2="338.45" stroke="#111" stroke-width="0.7"/>
<line x1="117.2" y1="354.55" x2="118.4" y2="354.55" stroke="#111" stroke-width="0.7"/>
<line x1="117.2" y1="370.65" x2="118.4" y2="370.65" stroke="#111" stroke-width="0.7"/>
<line x1="117.2" y1="386.75" x2="118.4" y2="386.75" stroke="#111" stroke-width="0.7"/>
<line x1="117.2" y1="402.84999999999997" x2="118.4" y2="402.84999999999997" stroke="#111" stroke-width="0.7"/>
<line x1="123.8" y1="410.9" x2="123.8" y2="412.4" stroke="#111" stroke-width="0.8"/>
<line x1="127.43" y1="410.9" x2="127.43" y2="412.4" stroke="#111" stroke-width="0.8"/>
<line x1="130.0" y1="410.9" x2="130.0" y2="412.4" stroke="#111" stroke-width="0.8"/>
<line x1="132.0" y1="410.9" x2="132.0" y2="412.4" stroke="#111" stroke-width="0.8"/>
<line x1="133.63" y1="410.9" x2="133.63" y2="412.4" stroke="#111" stroke-width="0.8"/>
<line x1="135.01" y1="410.9" x2="135.01" y2="412.4" stroke="#111" stroke-width="0.8"/>
<line x1="136.2" y1="410.9" x2="136.2" y2="412.4" stroke="#111" stroke-width="0.8"/>
<line x1="137.26" y1="410.9" x2="137.26" y2="412.4" stroke="#111" stroke-width="0.8"/>
<line x1="138.2" y1="410.9" x2="138.2" y2="413.5" stroke="#111" stroke-width="0.8"/>
<line x1="144.4" y1="410.9" x2="144.4" y2="412.4" stroke="#111" stroke-width="0.8"/>
<line x1="148.03" y1="410.9" x2="148.03" y2="412.4" stroke="#111" stroke-width="0.8"/>
<line x1="150.6" y1="410.9" x2="150.6" y2="412.4" stroke="#111" stroke-width="0.8"/>
<line x1="152.6" y1="410.9" x2="152.6" y2="412.4" stroke="#111" stroke-width="0.8"/>
<line x1="154.23" y1="410.9" x2="154.23" y2="412.4" stroke="#111" stroke-width="0.8"/>
<line x1="155.61" y1="410.9" x2="155.61" y2="412.4" stroke="#111" stroke-width="0.8"/>
<line x1="156.8" y1="410.9" x2="156.8" y2="412.4" stroke="#111" stroke-width="0.8"/>
<line x1="157.86" y1="410.9" x2="157.86" y2="412.4" stroke="#111" stroke-width="0.8"/>
<line x1="158.8" y1="410.9" x2="158.8" y2="413.5" stroke="#111" stroke-width="0.8"/>
<line x1="165.0" y1="410.9" x2="165.0" y2="412.4" stroke="#111" stroke-width="0.8"/>
<line x1="168.63" y1="410.9" x2="168.63" y2="412.4" stroke="#111" stroke-width="0.8"/>
<line x1="171.2" y1="410.9" x2="171.2" y2="412.4" stroke="#111" stroke-width="0.8"/>
<line x1="173.2" y1="410.9" x2="173.2" y2="412.4" stroke="#111" stroke-width="0.8"/>
<line x1="174.83" y1="410.9" x2="174.83" y2="412.4" stroke="#111" stroke-width="0.8"/>
<line x1="176.21" y1="410.9" x2="176.21" y2="412.4" stroke="#111" stroke-width="0.8"/>
<line x1="177.4" y1="410.9" x2="177.4" y2="412.4" stroke="#111" stroke-width="0.8"/>
<line x1="178.46" y1="410.9" x2="178.46" y2="412.4" stroke="#111" stroke-width="0.8"/>
<line x1="179.4" y1="410.9" x2="179.4" y2="413.5" stroke="#111" stroke-width="0.8"/>
<line x1="185.6" y1="410.9" x2="185.6" y2="412.4" stroke="#111" stroke-width="0.8"/>
<line x1="189.23" y1="410.9" x2="189.23" y2="412.4" stroke="#111" stroke-width="0.8"/>
<line x1="191.8" y1="410.9" x2="191.8" y2="412.4" stroke="#111" stroke-width="0.8"/>
<line x1="193.8" y1="410.9" x2="193.8" y2="412.4" stroke="#111" stroke-width="0.8"/>
<line x1="195.43" y1="410.9" x2="195.43" y2="412.4" stroke="#111" stroke-width="0.8"/>
<line x1="196.81" y1="410.9" x2="196.81" y2="412.4" stroke="#111" stroke-width="0.8"/>
<line x1="198.0" y1="410.9" x2="198.0" y2="412.4" stroke="#111" stroke-width="0.8"/>
<line x1="199.06" y1="410.9" x2="199.06" y2="412.4" stroke="#111" stroke-width="0.8"/>
<line x1="200.0" y1="410.9" x2="200.0" y2="413.5" stroke="#111" stroke-width="0.8"/>
<text x="138.2" y="421.9" font-size="8.6" text-anchor="middle">10<tspan font-size="5.332" dy="-3.2">2</tspan></text>
<text x="158.8" y="421.9" font-size="8.6" text-anchor="middle">10<tspan font-size="5.332" dy="-3.2">3</tspan></text>
<text x="179.2" y="421.9" font-size="8.6" text-anchor="middle">10<tspan font-size="5.332" dy="-3.2">4</tspan></text>
<text x="197.5" y="421.9" font-size="8.6" text-anchor="middle">10<tspan font-size="5.332" dy="-3.2">5</tspan></text>
<text x="164.3" y="432.0" font-size="9.2" text-anchor="middle" font-weight="normal" font-style="normal">CFSE</text>
<path d="M220,410.4 L223,409.6 L224.8,407.5 L226.8,402 L228.7,395.7 L230,385 L231.3,372.2 L232.6,357 L233.9,343.5 L235.3,335 L236.6,331.7 L237.9,335.5 L239.2,343.5 L240.5,352 L241.8,361.8 L243.7,374 L245.7,385.3 L247.6,394 L249.6,401 L251.5,405 L253.5,407.5 L256.1,409.6 L260,410.4 Z" fill="#a9a9a9" stroke="#111" stroke-width="1.0" stroke-linejoin="round"/>
<path d="M243,410.4 L247,409.8 L249.5,408 L250.9,404.5 L251.9,396 L252.9,380 L254,366.5 L255,378 L255.9,390 L256.9,394.4 L257.7,388 L258.5,365 L259.3,340 L260,331.7 L260.8,340 L261.7,365 L262.7,390 L263.9,403 L265.8,408.8 L268,410.2 L271,410.4" fill="none" stroke="#111" stroke-width="1.0" stroke-linejoin="round"/>
<rect x="207" y="327" width="84.89999999999998" height="83.89999999999998" fill="none" stroke="#111" stroke-width="1.5"/>
<line x1="204.8" y1="330.4" x2="207" y2="330.4" stroke="#111" stroke-width="1.0"/>
<line x1="204.8" y1="346.5" x2="207" y2="346.5" stroke="#111" stroke-width="1.0"/>
<line x1="204.8" y1="362.59999999999997" x2="207" y2="362.59999999999997" stroke="#111" stroke-width="1.0"/>
<line x1="204.8" y1="378.7" x2="207" y2="378.7" stroke="#111" stroke-width="1.0"/>
<line x1="204.8" y1="394.79999999999995" x2="207" y2="394.79999999999995" stroke="#111" stroke-width="1.0"/>
<line x1="204.8" y1="410.9" x2="207" y2="410.9" stroke="#111" stroke-width="1.0"/>
<line x1="205.8" y1="338.45" x2="207" y2="338.45" stroke="#111" stroke-width="0.7"/>
<line x1="205.8" y1="354.55" x2="207" y2="354.55" stroke="#111" stroke-width="0.7"/>
<line x1="205.8" y1="370.65" x2="207" y2="370.65" stroke="#111" stroke-width="0.7"/>
<line x1="205.8" y1="386.75" x2="207" y2="386.75" stroke="#111" stroke-width="0.7"/>
<line x1="205.8" y1="402.84999999999997" x2="207" y2="402.84999999999997" stroke="#111" stroke-width="0.7"/>
<line x1="213.35" y1="410.9" x2="213.35" y2="412.4" stroke="#111" stroke-width="0.8"/>
<line x1="216.89" y1="410.9" x2="216.89" y2="412.4" stroke="#111" stroke-width="0.8"/>
<line x1="219.4" y1="410.9" x2="219.4" y2="412.4" stroke="#111" stroke-width="0.8"/>
<line x1="221.35" y1="410.9" x2="221.35" y2="412.4" stroke="#111" stroke-width="0.8"/>
<line x1="222.94" y1="410.9" x2="222.94" y2="412.4" stroke="#111" stroke-width="0.8"/>
<line x1="224.29" y1="410.9" x2="224.29" y2="412.4" stroke="#111" stroke-width="0.8"/>
<line x1="225.45" y1="410.9" x2="225.45" y2="412.4" stroke="#111" stroke-width="0.8"/>
<line x1="226.48" y1="410.9" x2="226.48" y2="412.4" stroke="#111" stroke-width="0.8"/>
<line x1="227.4" y1="410.9" x2="227.4" y2="413.5" stroke="#111" stroke-width="0.8"/>
<line x1="233.45" y1="410.9" x2="233.45" y2="412.4" stroke="#111" stroke-width="0.8"/>
<line x1="236.99" y1="410.9" x2="236.99" y2="412.4" stroke="#111" stroke-width="0.8"/>
<line x1="239.5" y1="410.9" x2="239.5" y2="412.4" stroke="#111" stroke-width="0.8"/>
<line x1="241.45" y1="410.9" x2="241.45" y2="412.4" stroke="#111" stroke-width="0.8"/>
<line x1="243.04" y1="410.9" x2="243.04" y2="412.4" stroke="#111" stroke-width="0.8"/>
<line x1="244.39" y1="410.9" x2="244.39" y2="412.4" stroke="#111" stroke-width="0.8"/>
<line x1="245.55" y1="410.9" x2="245.55" y2="412.4" stroke="#111" stroke-width="0.8"/>
<line x1="246.58" y1="410.9" x2="246.58" y2="412.4" stroke="#111" stroke-width="0.8"/>
<line x1="247.5" y1="410.9" x2="247.5" y2="413.5" stroke="#111" stroke-width="0.8"/>
<line x1="253.55" y1="410.9" x2="253.55" y2="412.4" stroke="#111" stroke-width="0.8"/>
<line x1="257.09" y1="410.9" x2="257.09" y2="412.4" stroke="#111" stroke-width="0.8"/>
<line x1="259.6" y1="410.9" x2="259.6" y2="412.4" stroke="#111" stroke-width="0.8"/>
<line x1="261.55" y1="410.9" x2="261.55" y2="412.4" stroke="#111" stroke-width="0.8"/>
<line x1="263.14" y1="410.9" x2="263.14" y2="412.4" stroke="#111" stroke-width="0.8"/>
<line x1="264.49" y1="410.9" x2="264.49" y2="412.4" stroke="#111" stroke-width="0.8"/>
<line x1="265.65" y1="410.9" x2="265.65" y2="412.4" stroke="#111" stroke-width="0.8"/>
<line x1="266.68" y1="410.9" x2="266.68" y2="412.4" stroke="#111" stroke-width="0.8"/>
<line x1="267.6" y1="410.9" x2="267.6" y2="413.5" stroke="#111" stroke-width="0.8"/>
<line x1="273.65" y1="410.9" x2="273.65" y2="412.4" stroke="#111" stroke-width="0.8"/>
<line x1="277.19" y1="410.9" x2="277.19" y2="412.4" stroke="#111" stroke-width="0.8"/>
<line x1="279.7" y1="410.9" x2="279.7" y2="412.4" stroke="#111" stroke-width="0.8"/>
<line x1="281.65" y1="410.9" x2="281.65" y2="412.4" stroke="#111" stroke-width="0.8"/>
<line x1="283.24" y1="410.9" x2="283.24" y2="412.4" stroke="#111" stroke-width="0.8"/>
<line x1="284.59" y1="410.9" x2="284.59" y2="412.4" stroke="#111" stroke-width="0.8"/>
<line x1="285.75" y1="410.9" x2="285.75" y2="412.4" stroke="#111" stroke-width="0.8"/>
<line x1="286.78" y1="410.9" x2="286.78" y2="412.4" stroke="#111" stroke-width="0.8"/>
<line x1="287.7" y1="410.9" x2="287.7" y2="413.5" stroke="#111" stroke-width="0.8"/>
<text x="227.4" y="421.9" font-size="8.6" text-anchor="middle">10<tspan font-size="5.332" dy="-3.2">2</tspan></text>
<text x="247.5" y="421.9" font-size="8.6" text-anchor="middle">10<tspan font-size="5.332" dy="-3.2">3</tspan></text>
<text x="267.4" y="421.9" font-size="8.6" text-anchor="middle">10<tspan font-size="5.332" dy="-3.2">4</tspan></text>
<text x="286.2" y="421.9" font-size="8.6" text-anchor="middle">10<tspan font-size="5.332" dy="-3.2">5</tspan></text>
<text x="252.2" y="432.0" font-size="9.2" text-anchor="middle" font-weight="normal" font-style="normal">CFSE</text>
<text x="331.8" y="317.6" font-size="11.5" text-anchor="start" font-weight="bold" font-style="normal" class="b">G</text>
<line x1="361.6" y1="322.8" x2="361.6" y2="405.4" stroke="#111" stroke-width="1.0"/>
<line x1="358.40000000000003" y1="323.3" x2="361.6" y2="323.3" stroke="#111" stroke-width="1.0"/>
<text x="353.0" y="326.2" font-size="8" text-anchor="end" font-weight="normal" font-style="normal">100</text>
<line x1="358.40000000000003" y1="343.825" x2="361.6" y2="343.825" stroke="#111" stroke-width="1.0"/>
<text x="353.0" y="346.72499999999997" font-size="8" text-anchor="end" font-weight="normal" font-style="normal">75</text>
<line x1="358.40000000000003" y1="364.35" x2="361.6" y2="364.35" stroke="#111" stroke-width="1.0"/>
<text x="353.0" y="367.25" font-size="8" text-anchor="end" font-weight="normal" font-style="normal">50</text>
<line x1="358.40000000000003" y1="384.875" x2="361.6" y2="384.875" stroke="#111" stroke-width="1.0"/>
<text x="353.0" y="387.775" font-size="8" text-anchor="end" font-weight="normal" font-style="normal">25</text>
<line x1="358.40000000000003" y1="405.4" x2="361.6" y2="405.4" stroke="#111" stroke-width="1.0"/>
<text x="353.0" y="408.29999999999995" font-size="8" text-anchor="end" font-weight="normal" font-style="normal">0</text>
<line x1="361.1" y1="405.4" x2="486" y2="405.4" stroke="#111" stroke-width="1.1"/>
<line x1="361.6" y1="405.4" x2="361.6" y2="407.9" stroke="#111" stroke-width="1.0"/>
<text x="361.8" y="416.0" font-size="8" text-anchor="middle" font-weight="normal" font-style="normal">0</text>
<line x1="386.20000000000005" y1="405.4" x2="386.20000000000005" y2="407.9" stroke="#111" stroke-width="1.0"/>
<text x="384.40000000000003" y="416.0" font-size="8" text-anchor="middle" font-weight="normal" font-style="normal">20</text>
<line x1="410.8" y1="405.4" x2="410.8" y2="407.9" stroke="#111" stroke-width="1.0"/>
<text x="408.8" y="416.0" font-size="8" text-anchor="middle" font-weight="normal" font-style="normal">40</text>
<line x1="435.40000000000003" y1="405.4" x2="435.40000000000003" y2="407.9" stroke="#111" stroke-width="1.0"/>
<text x="433.40000000000003" y="416.0" font-size="8" text-anchor="middle" font-weight="normal" font-style="normal">60</text>
<line x1="460.0" y1="405.4" x2="460.0" y2="407.9" stroke="#111" stroke-width="1.0"/>
<text x="457.8" y="416.0" font-size="8" text-anchor="middle" font-weight="normal" font-style="normal">80</text>
<line x1="484.6" y1="405.4" x2="484.6" y2="407.9" stroke="#111" stroke-width="1.0"/>
<text x="480.6" y="416.0" font-size="8" text-anchor="middle" font-weight="normal" font-style="normal">100</text>
<text x="338.6" y="364" font-size="8.0" text-anchor="middle" font-weight="bold" font-style="normal" class="b" transform="rotate(-90 338.6 364)">% cell death</text>
<text x="423" y="430.3" font-size="7.8" text-anchor="middle" font-weight="bold" font-style="normal" class="b">IL-21 (ng/ml)</text>
<polyline points="361.6,387.1 369.2875,338.4 392.35,335.1 484.6,333.1" fill="none" stroke="#111" stroke-width="1.2"/>
<line x1="361.6" y1="385.8" x2="361.6" y2="388.4" stroke="#111" stroke-width="0.9"/>
<line x1="359.8" y1="385.8" x2="363.40000000000003" y2="385.8" stroke="#111" stroke-width="0.9"/>
<line x1="359.8" y1="388.4" x2="363.40000000000003" y2="388.4" stroke="#111" stroke-width="0.9"/>
<rect x="359.90000000000003" y="385.40000000000003" width="3.4" height="3.4" fill="#fff" stroke="#111" stroke-width="0.9"/>
<line x1="369.2875" y1="333.6" x2="369.2875" y2="343" stroke="#111" stroke-width="0.9"/>
<line x1="367.4875" y1="333.6" x2="371.08750000000003" y2="333.6" stroke="#111" stroke-width="0.9"/>
<line x1="367.4875" y1="343" x2="371.08750000000003" y2="343" stroke="#111" stroke-width="0.9"/>
<rect x="367.58750000000003" y="336.7" width="3.4" height="3.4" fill="#fff" stroke="#111" stroke-width="0.9"/>
<line x1="392.35" y1="333.6" x2="392.35" y2="336.6" stroke="#111" stroke-width="0.9"/>
<line x1="390.55" y1="333.6" x2="394.15000000000003" y2="333.6" stroke="#111" stroke-width="0.9"/>
<line x1="390.55" y1="336.6" x2="394.15000000000003" y2="336.6" stroke="#111" stroke-width="0.9"/>
<rect x="390.65000000000003" y="333.40000000000003" width="3.4" height="3.4" fill="#fff" stroke="#111" stroke-width="0.9"/>
<line x1="484.6" y1="330.1" x2="484.6" y2="336" stroke="#111" stroke-width="0.9"/>
<line x1="482.8" y1="330.1" x2="486.40000000000003" y2="330.1" stroke="#111" stroke-width="0.9"/>
<line x1="482.8" y1="336" x2="486.40000000000003" y2="336" stroke="#111" stroke-width="0.9"/>
<rect x="482.90000000000003" y="331.40000000000003" width="3.4" height="3.4" fill="#fff" stroke="#111" stroke-width="0.9"/>
<polyline points="361.6,385.4 369.2875,386.2 392.35,380.3 484.6,363.2" fill="none" stroke="#111" stroke-width="1.2"/>
<line x1="361.6" y1="384.4" x2="361.6" y2="386.4" stroke="#111" stroke-width="0.9"/>
<line x1="359.8" y1="384.4" x2="363.40000000000003" y2="384.4" stroke="#111" stroke-width="0.9"/>
<line x1="359.8" y1="386.4" x2="363.40000000000003" y2="386.4" stroke="#111" stroke-width="0.9"/>
<circle cx="361.6" cy="385.4" r="1.9" fill="#000" stroke="none" stroke-width="0"/>
<line x1="369.2875" y1="385.4" x2="369.2875" y2="387" stroke="#111" stroke-width="0.9"/>
<line x1="367.4875" y1="385.4" x2="371.08750000000003" y2="385.4" stroke="#111" stroke-width="0.9"/>
<line x1="367.4875" y1="387" x2="371.08750000000003" y2="387" stroke="#111" stroke-width="0.9"/>
<circle cx="369.2875" cy="386.2" r="1.9" fill="#000" stroke="none" stroke-width="0"/>
<line x1="392.35" y1="379.5" x2="392.35" y2="381.1" stroke="#111" stroke-width="0.9"/>
<line x1="390.55" y1="379.5" x2="394.15000000000003" y2="379.5" stroke="#111" stroke-width="0.9"/>
<line x1="390.55" y1="381.1" x2="394.15000000000003" y2="381.1" stroke="#111" stroke-width="0.9"/>
<circle cx="392.35" cy="380.3" r="1.9" fill="#000" stroke="none" stroke-width="0"/>
<line x1="484.6" y1="358.2" x2="484.6" y2="367.7" stroke="#111" stroke-width="0.9"/>
<line x1="482.8" y1="358.2" x2="486.40000000000003" y2="358.2" stroke="#111" stroke-width="0.9"/>
<line x1="482.8" y1="367.7" x2="486.40000000000003" y2="367.7" stroke="#111" stroke-width="0.9"/>
<circle cx="484.6" cy="363.2" r="1.9" fill="#000" stroke="none" stroke-width="0"/>
<line x1="453.5" y1="386.3" x2="461.3" y2="386.3" stroke="#111" stroke-width="1.0"/>
<rect x="455.7" y="384.6" width="3.4" height="3.4" fill="#fff" stroke="#111" stroke-width="0.9"/>
<text x="463.9" y="388.6" font-size="7.5" text-anchor="start" font-weight="normal" font-style="normal">Control</text>
<line x1="453.5" y1="396.6" x2="461.3" y2="396.6" stroke="#111" stroke-width="1.0"/>
<circle cx="457.4" cy="396.6" r="1.9" fill="#000" stroke="none" stroke-width="0"/>
<text x="463.9" y="399.8" font-size="7.5" text-anchor="start" font-weight="normal" font-style="normal">CD40L</text>
</g>
</svg>
</body></html>
